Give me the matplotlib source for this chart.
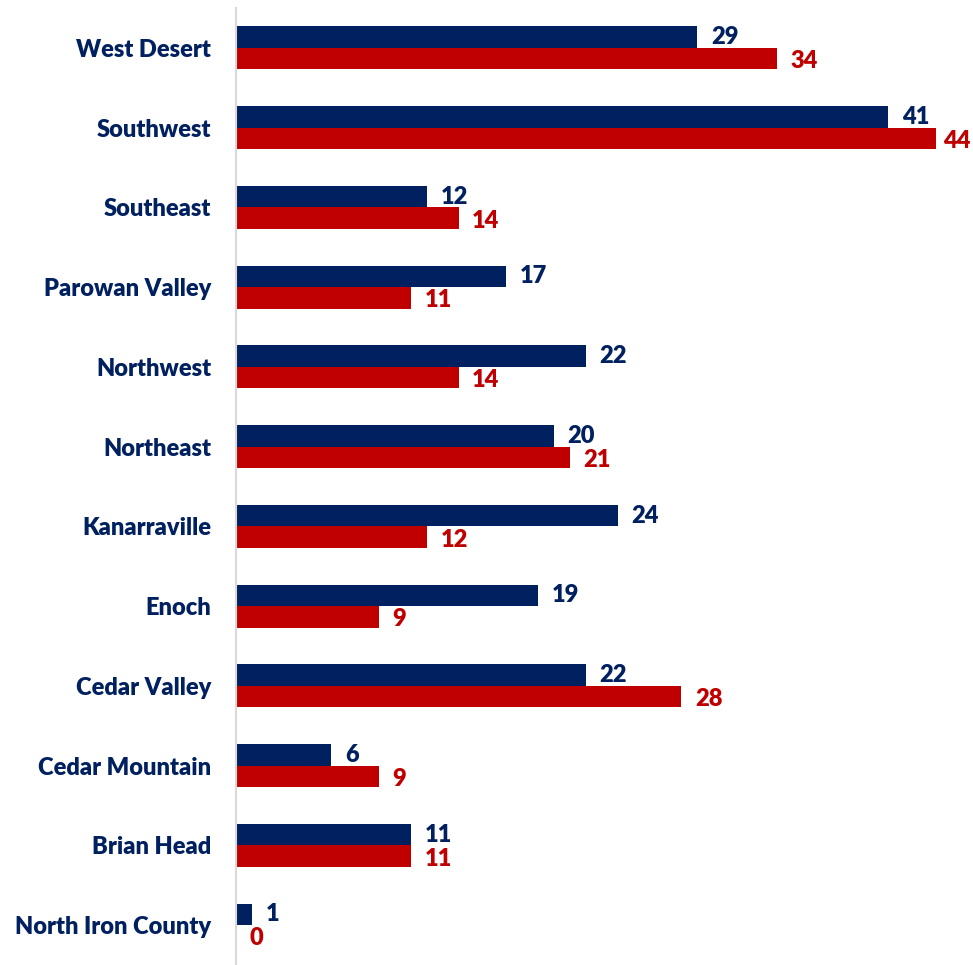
import matplotlib.pyplot as plt
import numpy as np

# Données
regions = ["West Desert", "Southwest", "Southeast", "Parowan Valley", "Northwest",
           "Northeast", "Kanarraville", "Enoch", "Cedar Valley", "Cedar Mountain",
           "Brian Head", "North Iron County"]
serie_bleue = [29, 41, 12, 17, 22, 20, 24, 19, 22, 6, 11, 1]
serie_rouge = [34, 44, 14, 11, 14, 21, 12, 9, 28, 9, 11, 0]

bleu = "#002060"
rouge = "#C00000"

plt.rcParams['font.family'] = ['Lato', 'DejaVu Sans']

fig = plt.figure(figsize=(9.73, 9.65), dpi=100)
ax = fig.add_axes([236 / 973, 0.0, 700 / 973, 1 - 8 / 965])

y = np.arange(len(regions))
h = 0.27
ax.barh(y - h / 2, serie_bleue, height=h, color=bleu)
ax.barh(y + h / 2, serie_rouge, height=h, color=rouge)

# Étiquettes de valeurs (la plus longue reste dans la figure)
taille = 17
xmax_txt = 44.45
for yi, v in zip(y, serie_bleue):
    ax.text(min(v + 0.85, xmax_txt), yi - h / 2, str(v), color=bleu, fontsize=taille,
            fontweight='heavy', va='center', ha='left', clip_on=False)
for yi, v in zip(y, serie_rouge):
    ax.text(min(v + 0.85, xmax_txt), yi + h / 2 + 0.03, str(v), color=rouge, fontsize=taille,
            fontweight='heavy', va='center', ha='left', clip_on=False)

ax.set_yticks(y)
ax.set_yticklabels(regions, color=bleu, fontsize=taille, fontweight='heavy')
ax.tick_params(axis='y', length=0, pad=18)
ax.set_xticks([])
ax.set_xlim(0, 44)
ax.set_ylim(len(regions) - 0.5, -0.5)

for s in ['top', 'right', 'bottom']:
    ax.spines[s].set_visible(False)
ax.spines['left'].set_color('#D9D9D9')
ax.spines['left'].set_linewidth(1.5)

fig.savefig("out.png", dpi=100)
